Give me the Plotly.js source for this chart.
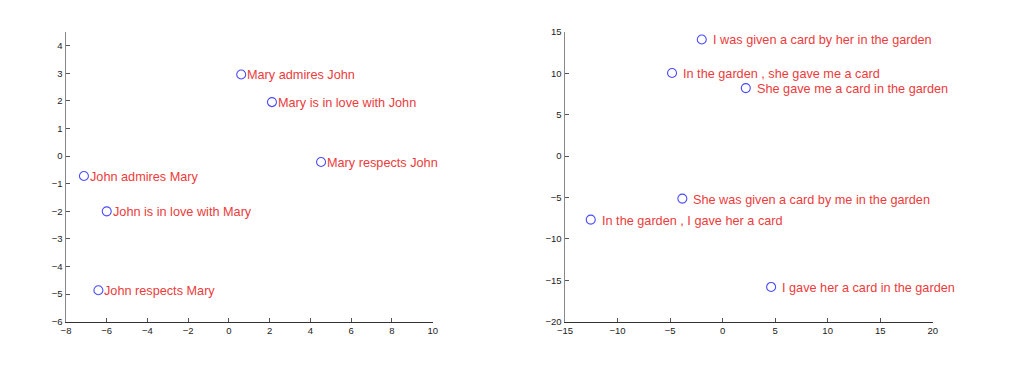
<!DOCTYPE html>
<html>
<head>
<meta charset="utf-8">
<script src="https://cdn.plot.ly/plotly-3.0.1.min.js"></script>
<style>
html,body{margin:0;padding:0;background:#fff;}
#chart{width:1017px;height:370px;}
</style>
</head>
<body>
<div id="chart"></div>
<script>
// Left panel data
const leftLabels = ["Mary admires John","Mary is in love with John","Mary respects John","John admires Mary","John is in love with Mary","John respects Mary"];
const leftX = [0.6, 2.11, 4.52, -7.12, -6.0, -6.41];
const leftY = [2.96, 1.96, -0.21, -0.72, -2.0, -4.86];

// Right panel data
const rightLabels = ["I was given a card by her in the garden","In the garden , she gave me a card","She gave me a card in the garden","She was given a card by me in the garden","In the garden , I gave her a card","I gave her a card in the garden"];
const rightX = [-1.98, -4.81, 2.21, -3.83, -12.55, 4.62];
const rightY = [14.1, 10.04, 8.22, -5.13, -7.67, -15.8];

const leftXTicks = [-8,-6,-4,-2,0,2,4,6,8,10];
const leftYTicks = [-6,-5,-4,-3,-2,-1,0,1,2,3,4];
const rightXTicks = [-15,-10,-5,0,5,10,15,20];
const rightYTicks = [-20,-15,-10,-5,0,5,10,15];

const W = 1017, H = 370;
const blue = '#4b4bff';
const red = '#ec3b3b';

const marker = {symbol:'circle-open', size:9, color:blue, line:{color:blue, width:1.1}};

const traces = [
  {x:leftX, y:leftY, mode:'markers', type:'scatter', marker:marker, xaxis:'x', yaxis:'y', hoverinfo:'none', cliponaxis:false},
  {x:rightX, y:rightY, mode:'markers', type:'scatter', marker:marker, xaxis:'x2', yaxis:'y2', hoverinfo:'none', cliponaxis:false}
];

const labelFont = {family:'Liberation Sans, Arial, sans-serif', size:12.7, color:red};
const annotations = [];
leftLabels.forEach((t,i)=>annotations.push({x:leftX[i], y:leftY[i], xref:'x', yref:'y', text:t, showarrow:false, xanchor:'left', yanchor:'middle', xshift:4, yshift:-1, font:labelFont}));
rightLabels.forEach((t,i)=>annotations.push({x:rightX[i], y:rightY[i], xref:'x2', yref:'y2', text:t, showarrow:false, xanchor:'left', yanchor:'middle', xshift:9, yshift:-1, font:labelFont}));

const tickfont = {family:'Liberation Sans, Arial, sans-serif', size:9.5, color:'#222'};
function fmt(v){ return v<0 ? '\u2212'+Math.abs(v) : String(v); }
function xax(range, ticks, dom, anchor){
  return {range:range, domain:dom, anchor:anchor, tickvals:ticks, ticktext:ticks.map(fmt),
    ticks:'inside', ticklen:4, tickwidth:1, tickcolor:'#555', showline:true, linecolor:'#333', linewidth:1,
    showgrid:false, zeroline:false, tickfont:tickfont, fixedrange:true};
}
function yax(range, ticks, dom, anchor){
  return {range:range, domain:dom, anchor:anchor, tickvals:ticks, ticktext:ticks.map(fmt),
    ticks:'inside', ticklen:4, tickwidth:1, tickcolor:'#555', showline:true, linecolor:'#888', linewidth:1.5,
    showgrid:false, zeroline:false, tickfont:tickfont, fixedrange:true};
}

const yDom = [1-321.7/H, 1-32/H];
const layout = {
  width:W, height:H, margin:{l:0,r:0,t:0,b:0}, showlegend:false,
  paper_bgcolor:'#fff', plot_bgcolor:'#fff',
  xaxis: xax([-8,10], leftXTicks, [66/W, 432.7/W], 'y'),
  yaxis: yax([-6,4.5], leftYTicks, yDom, 'x'),
  xaxis2: xax([-15,20], rightXTicks, [565/W, 932.7/W], 'y2'),
  yaxis2: yax([-20,15], rightYTicks, yDom, 'x2'),
  annotations: annotations
};

Plotly.newPlot('chart', traces, layout, {staticPlot:true, displayModeBar:false});
</script>
</body>
</html>
